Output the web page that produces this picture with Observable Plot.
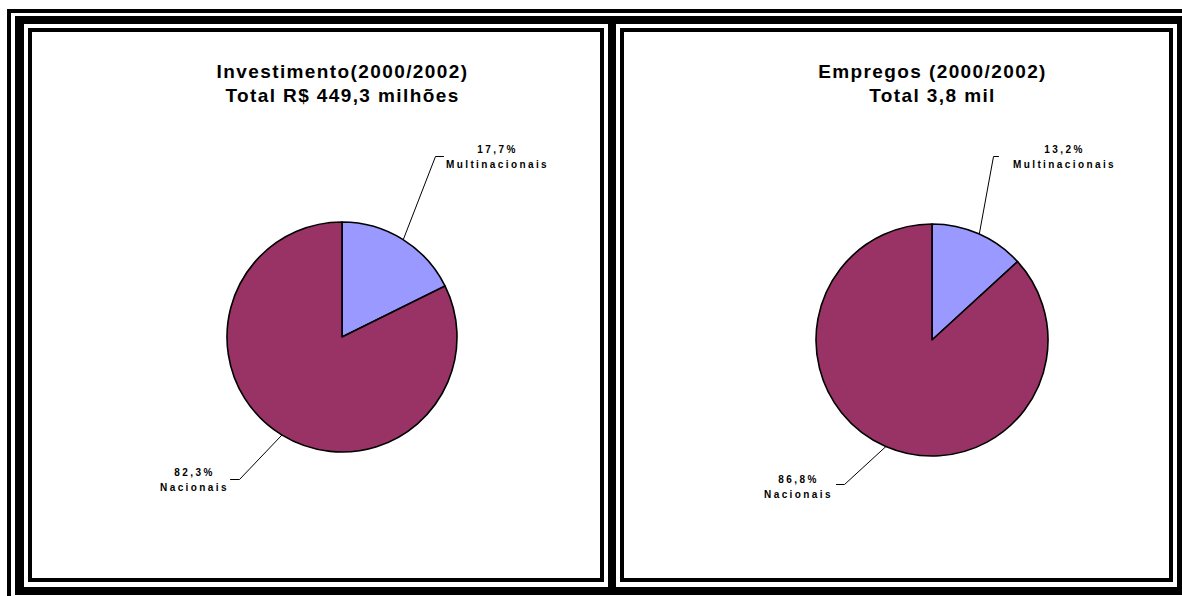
<!DOCTYPE html>
<html>
<head>
<meta charset="utf-8">
<script src="https://cdn.jsdelivr.net/npm/d3@7"></script>
<script src="https://cdn.jsdelivr.net/npm/@observablehq/plot@0.6"></script>
<style>
  html, body { margin: 0; padding: 0; background: #fff; }
  #page { position: relative; width: 1182px; height: 596px; overflow: hidden; background: #fff; }
  .frame { position: absolute; box-sizing: border-box; border-style: solid; border-color: #000; }
  .bar { position: absolute; background: #000; }
  .panel { position: absolute; box-sizing: border-box; border: 4px solid #000; background: #fff; }
  .panel svg { position: absolute; left: 0; top: 0; }
  g[aria-description="title"] text { letter-spacing: 1.4px; }
  g[aria-description="label"] text { letter-spacing: 2.4px; }
</style>
</head>
<body>
<div id="page">
  <div class="frame" style="left:7px;top:9px;width:1200px;height:610px;border-width:4px"></div>
  <div class="frame" style="left:15px;top:16px;width:1170px;height:579px;border-width:8px 8px 8px 9px"></div>
  <div class="bar" style="left:608px;top:24px;width:8px;height:563px"></div>
  <div class="panel" id="left" style="left:28px;top:28px;width:576px;height:554px"></div>
  <div class="panel" id="right" style="left:620px;top:28px;width:553px;height:554px"></div>
</div>
<script>
// ---- data ----
const categories = ["Multinacionais", "Nacionais"];
const investimento = [17.7, 82.3];
const empregos = [13.2, 86.8];
const titleInvestimento = ["Investimento(2000/2002)", "Total R$ 449,3 milhões"];
const titleEmpregos = ["Empregos (2000/2002)", "Total 3,8 mil"];
const colors = ["#9999FF", "#993366"];

// ---- layout (panel-relative pixels) ----
const charts = [
  {
    el: "left", width: 568, height: 546, cx: 310, cy: 305, r: 115,
    title: titleInvestimento, values: investimento,
    labels: [
      {x: 465, y: 120, tick: [[411, 124], [403, 124]]},
      {x: 162, y: 443, tick: [[198, 447], [207, 447]]}
    ]
  },
  {
    el: "right", width: 545, height: 546, cx: 308, cy: 308, r: 116,
    title: titleEmpregos, values: empregos,
    labels: [
      {x: 440, y: 120, tick: [[374, 124], [369, 124]]},
      {x: 174, y: 450, tick: [[212, 452], [220, 452]]}
    ]
  }
];
const titleY = [45, 69];
const labelGap = 15;
const fmt = v => v.toFixed(1).replace(".", ",") + "%";

function pieMark(slices, cx, cy, r) {
  return (index, scales) => {
    const X = scales.x, Y = scales.y;
    const px = X(cx), py = Y(cy), pr = Math.abs(X(cx + r) - X(cx));
    const g = d3.create("svg:g").attr("aria-label", "pie");
    const arc = d3.arc().innerRadius(0).outerRadius(pr);
    g.selectAll("path").data(slices).join("path")
      .attr("transform", `translate(${px},${py})`)
      .attr("d", arc)
      .attr("fill", d => d.data.color)
      .attr("stroke", "#000")
      .attr("stroke-width", 1.6)
      .attr("stroke-linejoin", "round");
    return g.node();
  };
}

for (const c of charts) {
  const data = categories.map((name, i) => ({name, value: c.values[i], color: colors[i]}));
  const slices = d3.pie().sort(null).value(d => d.value)(data);
  const leaders = [];
  slices.forEach((s, i) => {
    const mid = (s.startAngle + s.endAngle) / 2;
    const lab = c.labels[i];
    const pts = [lab.tick[0], lab.tick[1], [c.cx + c.r * Math.sin(mid), c.cy - c.r * Math.cos(mid)]];
    pts.forEach(p => leaders.push({k: i, x: p[0], y: p[1]}));
  });
  const labelRows = data.map((d, i) => ({pct: fmt(d.value), name: d.name, x: c.labels[i].x, y: c.labels[i].y}));
  const titles = c.title.map((t, i) => ({t, x: c.cx, y: titleY[i]}));

  const chart = Plot.plot({
    width: c.width,
    height: c.height,
    margin: 0,
    x: {domain: [0, c.width], range: [0, c.width], axis: null},
    y: {domain: [0, c.height], range: [0, c.height], axis: null},
    style: {fontFamily: "'Liberation Sans', Arial, sans-serif", background: "transparent", overflow: "visible", color: "#000"},
    marks: [
      Plot.line(leaders, {x: "x", y: "y", z: "k", stroke: "#000", strokeWidth: 1, curve: "linear"}),
      pieMark(slices, c.cx, c.cy, c.r),
      Plot.text(titles, {x: "x", y: "y", text: "t", fontSize: 19, fontWeight: "bold", lineAnchor: "bottom", textAnchor: "middle", fill: "#000", ariaDescription: "title"}),
      Plot.text(labelRows, {x: "x", y: "y", text: "pct", fontSize: 10, fontWeight: "bold", lineAnchor: "bottom", textAnchor: "middle", fill: "#000", ariaDescription: "label"}),
      Plot.text(labelRows, {x: "x", y: d => d.y + labelGap, text: "name", fontSize: 10, fontWeight: "bold", lineAnchor: "bottom", textAnchor: "middle", fill: "#000", ariaDescription: "label"})
    ]
  });
  document.getElementById(c.el).appendChild(chart);
}
</script>
</body>
</html>
